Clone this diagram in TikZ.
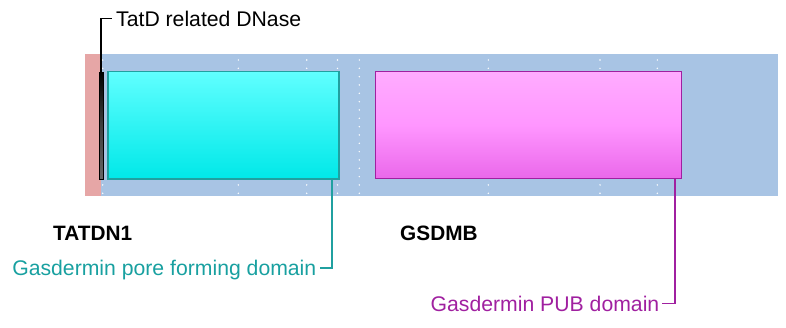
\documentclass[tikz,border=0pt]{standalone}
\usepackage{fontspec}
\setmainfont{Liberation Sans}
\definecolor{bgblue}{RGB}{168,196,228}
\definecolor{bgpink}{RGB}{230,166,166}
\definecolor{cyantop}{RGB}{96,255,255}
\definecolor{cyanbot}{RGB}{0,232,232}
\definecolor{cyanedge}{RGB}{32,160,160}
\definecolor{magtop}{RGB}{255,172,255}
\definecolor{magmid}{RGB}{255,150,255}
\definecolor{magbot}{RGB}{234,104,234}
\definecolor{magedge}{RGB}{160,32,160}
\definecolor{tealtext}{RGB}{24,160,160}
\definecolor{magtext}{RGB}{160,32,160}
\begin{document}
\begin{tikzpicture}[x=1pt,y=-1pt,
  lbl/.style={inner sep=0pt,font=\fontsize{21.2}{24}\selectfont},
  gene/.style={inner sep=0pt,font=\fontsize{20.8}{24}\selectfont\bfseries},
  dom/.style={draw,line width=1.3pt,inner sep=0pt,rectangle},
  dotw/.style={fill=white,draw=none}]
\useasboundingbox (0,0) rectangle (786,327);
% background strips
\fill[bgpink] (85,54) rectangle (101,196);
\fill[bgblue] (101,54) rectangle (778,196);
% dotted guides
\foreach \xx in {102.7,238.3,306.7,337.5,359.3,488.3,600,657.3}{
  \foreach \k in {0,...,16}{
    \fill[dotw] (\xx,60+\k*8.33) circle (0.8pt);
  }
}
% domains
\node[dom,draw=black,left color=black,right color=black!60,middle color=black!75,shading angle=0,
  minimum width=4pt,minimum height=107pt,line width=0.6pt] (bar) at (101,125.5) {};
\node[dom,draw=cyanedge,top color=cyantop,bottom color=cyanbot,
  minimum width=231pt,minimum height=107.5pt] (cyan) at (223.5,125.25) {};
\node[dom,draw=magedge,top color=magtop,bottom color=magbot,middle color=magmid,
  minimum width=306pt,minimum height=106.6pt] (mag) at (528.7,125) {};
% labels
\node[lbl,anchor=base west] (tatd) at (116,26) {TatD related DNase};
\node[gene,anchor=base west] (g1) at (53,240) {TATDN1};
\node[gene,anchor=base west] (g2) at (400,240) {GSDMB};
\node[lbl,anchor=base east,text=tealtext] (pore) at (316.5,275) {Gasdermin pore forming domain};
\node[lbl,anchor=base west,text=magtext] (pub) at (430.5,311) {Gasdermin PUB domain};
% connectors
\coordinate (pc) at (332,0);
\coordinate (mc) at (675,0);
\draw[line width=1.5pt,black] (bar.north) |- ([xshift=-4pt]tatd.west);
\draw[line width=1.5pt,cyanedge] (cyan.south -| pc) |- ([shift={(3pt,7pt)}]pore.base east);
\draw[line width=1.5pt,magedge] (mag.south -| mc) |- ([shift={(3pt,7.5pt)}]pub.base east);
\end{tikzpicture}
\end{document}
